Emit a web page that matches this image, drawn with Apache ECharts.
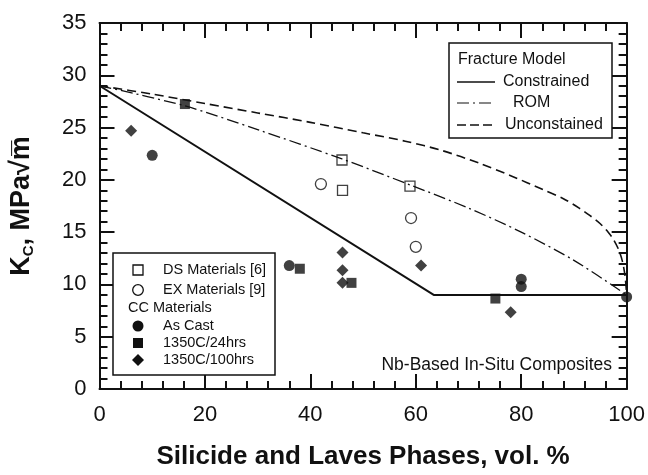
<!DOCTYPE html>
<html>
<head>
<meta charset="utf-8">
<script src="https://cdn.jsdelivr.net/npm/echarts@6/dist/echarts.min.js"></script>
<style>
  html, body { margin: 0; padding: 0; background: #fff; }
  #chart { width: 648px; height: 475px; }
</style>
</head>
<body>
<div id="chart"></div>
<script>
// Fracture toughness of Nb-based in-situ composites vs. silicide + Laves volume fraction

// Model curves: [vol. %, Kc]
var constrainedModel = [[0, 29], [63.4, 9.0], [100, 9.0]];
var romModel = [[0, 29], [16, 27.1], [30, 24.8], [46, 22.0], [59, 19.5], [70, 17.3], [80, 15.0], [90, 12.3], [100, 9]];
var unconstrainedModel = [[0, 29], [10, 28.2], [20, 27.3], [30, 26.4], [40, 25.5], [50, 24.5], [58, 23.7], [65, 22.8],
  [72, 21.6], [78, 20.4], [84, 19.1], [88, 18.2], [91, 17.3], [93, 16.6], [95, 15.8], [96.5, 15.0], [97.5, 14.3],
  [98.5, 13.3], [99.2, 12.2], [99.7, 10.8], [100, 9]];

// Measured materials: [vol. %, Kc]
var dsMaterials = [[46, 21.9], [46.1, 19.0], [58.9, 19.4]];
var exMaterials = [[42, 19.6], [59.1, 16.35], [60, 13.6]];
var asCast = [[10, 22.35], [36, 11.8], [80, 10.5], [80, 9.8], [100, 8.8]];
var heat24h = [[16.2, 27.25], [38, 11.5], [47.8, 10.15], [75.1, 8.65]];
var heat100h = [[6, 24.7], [46.1, 13.05], [46.1, 11.35], [46.1, 10.15], [61, 11.8], [78, 7.35]];

// Axis ranges and ticks
var xRange = { min: 0, max: 100, step: 20 };
var yRange = { min: 0, max: 35, step: 5 };

var FONT = '"Liberation Sans", Arial, sans-serif';
var INK = '#111';

var chart = echarts.init(document.getElementById('chart'), null, { renderer: 'canvas' });

// Every side of the frame carries inward major and minor ticks
function frameAxis(extra) {
  var base = {
    axisLine: { show: true, onZero: false, lineStyle: { color: INK, width: 2 } },
    axisTick: { show: true, inside: true, length: 15, lineStyle: { color: INK, width: 2 } },
    minorTick: { show: true, splitNumber: 5, length: 8, lineStyle: { color: INK, width: 2 } },
    splitLine: { show: false },
    minorSplitLine: { show: false }
  };
  return Object.assign(base, extra);
}

var diamondPath = 'path://M0,-1L1,0L0,1L-1,0Z';

var option = {
  backgroundColor: '#fff',
  animation: false,
  grid: { left: 97, right: 20, top: 23, bottom: 81 },
  xAxis: [
    frameAxis({
      type: 'value', position: 'bottom', min: xRange.min, max: xRange.max, interval: xRange.step,
      axisLabel: { color: INK, fontSize: 22, fontFamily: FONT, margin: 15 },
      name: 'Silicide and Laves Phases, vol. %',
      nameLocation: 'middle', nameGap: 55,
      nameTextStyle: { color: INK, fontSize: 26, fontWeight: 'bold', fontFamily: FONT }
    }),
    frameAxis({
      type: 'value', position: 'top', min: xRange.min, max: xRange.max, interval: xRange.step,
      axisLabel: { show: false }
    })
  ],
  yAxis: [
    frameAxis({
      type: 'value', position: 'left', min: yRange.min, max: yRange.max, interval: yRange.step,
      axisLabel: { color: INK, fontSize: 22, fontFamily: FONT, margin: 13 },
      name: '{a|K}{b|C}{a|, MPa√m\u0305}',
      nameLocation: 'middle', nameGap: 63,
      nameTextStyle: {
        color: INK,
        rich: {
          a: { fontSize: 27, fontWeight: 'bold', fontFamily: FONT, color: INK, lineHeight: 30 },
          b: { fontSize: 15, fontWeight: 'bold', fontFamily: FONT, color: INK, verticalAlign: 'bottom', lineHeight: 30, padding: [10, 0, 0, 0] }
        }
      }
    }),
    frameAxis({
      type: 'value', position: 'right', min: yRange.min, max: yRange.max, interval: yRange.step,
      axisLabel: { show: false }
    })
  ],
  series: [
    {
      name: 'Constrained', type: 'line', data: constrainedModel, symbol: 'none',
      lineStyle: { color: INK, width: 2 }, z: 2
    },
    {
      name: 'ROM', type: 'line', data: romModel, symbol: 'none', smooth: 0.3,
      lineStyle: { color: INK, width: 1.3, type: [12, 4, 2, 4] }, z: 2
    },
    {
      name: 'Unconstained', type: 'line', data: unconstrainedModel, symbol: 'none', smooth: 0.3,
      lineStyle: { color: INK, width: 1.6, type: [9, 5] }, z: 2
    },
    {
      name: 'DS Materials [6]', type: 'scatter', data: dsMaterials, symbol: 'rect', symbolSize: 10,
      itemStyle: { color: 'rgba(0,0,0,0)', borderColor: INK, borderWidth: 1.3 }, z: 3
    },
    {
      name: 'EX Materials [9]', type: 'scatter', data: exMaterials, symbol: 'circle', symbolSize: 11,
      itemStyle: { color: 'rgba(0,0,0,0)', borderColor: INK, borderWidth: 1.3 }, z: 3
    },
    {
      name: 'As Cast', type: 'scatter', data: asCast, symbol: 'circle', symbolSize: 11,
      itemStyle: { color: INK }, z: 3
    },
    {
      name: '1350C/24hrs', type: 'scatter', data: heat24h, symbol: 'rect', symbolSize: 10,
      itemStyle: { color: INK }, z: 3
    },
    {
      name: '1350C/100hrs', type: 'scatter', data: heat100h, symbol: diamondPath, symbolSize: 12,
      itemStyle: { color: INK }, z: 3
    }
  ],
  graphic: [
    // Fracture model key (upper right)
    { type: 'rect', shape: { x: 449, y: 43, width: 163, height: 95 }, style: { fill: '#fff', stroke: INK, lineWidth: 1.5 }, z: 10 },
    { type: 'text', x: 458, y: 60, style: { text: 'Fracture Model', font: '16px ' + FONT, fill: INK, verticalAlign: 'middle' }, z: 11 },
    { type: 'line', shape: { x1: 457, y1: 82, x2: 495, y2: 82 }, style: { stroke: INK, lineWidth: 1.5 }, z: 11 },
    { type: 'text', x: 503, y: 82, style: { text: 'Constrained', font: '16px ' + FONT, fill: INK, verticalAlign: 'middle' }, z: 11 },
    { type: 'line', shape: { x1: 457, y1: 103, x2: 495, y2: 103 }, style: { stroke: INK, lineWidth: 1.2, lineDash: [12, 4, 2, 4] }, z: 11 },
    { type: 'text', x: 513, y: 103, style: { text: 'ROM', font: '16px ' + FONT, fill: INK, verticalAlign: 'middle' }, z: 11 },
    { type: 'line', shape: { x1: 457, y1: 125, x2: 495, y2: 125 }, style: { stroke: INK, lineWidth: 1.6, lineDash: [9, 4] }, z: 11 },
    { type: 'text', x: 505, y: 125, style: { text: 'Unconstained', font: '16px ' + FONT, fill: INK, verticalAlign: 'middle' }, z: 11 },

    // Materials key (lower left)
    { type: 'rect', shape: { x: 113, y: 253, width: 162, height: 122 }, style: { fill: '#fff', stroke: INK, lineWidth: 1.5 }, z: 10 },
    { type: 'rect', shape: { x: 133, y: 265, width: 10, height: 10 }, style: { fill: 'none', stroke: INK, lineWidth: 1.3 }, z: 11 },
    { type: 'text', x: 163, y: 270, style: { text: 'DS Materials [6]', font: '14.5px ' + FONT, fill: INK, verticalAlign: 'middle' }, z: 11 },
    { type: 'circle', shape: { cx: 138, cy: 290, r: 5.3 }, style: { fill: 'none', stroke: INK, lineWidth: 1.3 }, z: 11 },
    { type: 'text', x: 163, y: 290, style: { text: 'EX Materials [9]', font: '14.5px ' + FONT, fill: INK, verticalAlign: 'middle' }, z: 11 },
    { type: 'text', x: 128, y: 308, style: { text: 'CC Materials', font: '14.5px ' + FONT, fill: INK, verticalAlign: 'middle' }, z: 11 },
    { type: 'circle', shape: { cx: 138, cy: 326, r: 5.5 }, style: { fill: INK }, z: 11 },
    { type: 'text', x: 163, y: 326, style: { text: 'As Cast', font: '14.5px ' + FONT, fill: INK, verticalAlign: 'middle' }, z: 11 },
    { type: 'rect', shape: { x: 133, y: 338, width: 10, height: 10 }, style: { fill: INK }, z: 11 },
    { type: 'text', x: 163, y: 343, style: { text: '1350C/24hrs', font: '14.5px ' + FONT, fill: INK, verticalAlign: 'middle' }, z: 11 },
    { type: 'polygon', shape: { points: [[138, 354], [144, 360], [138, 366], [132, 360]] }, style: { fill: INK }, z: 11 },
    { type: 'text', x: 163, y: 360, style: { text: '1350C/100hrs', font: '14.5px ' + FONT, fill: INK, verticalAlign: 'middle' }, z: 11 },

    // System annotation
    { type: 'text', x: 612, y: 365, style: { text: 'Nb-Based In-Situ Composites', font: '17.5px ' + FONT, fill: INK, align: 'right', verticalAlign: 'middle' }, z: 11 }
  ]
};

chart.setOption(option);
</script>
</body>
</html>
